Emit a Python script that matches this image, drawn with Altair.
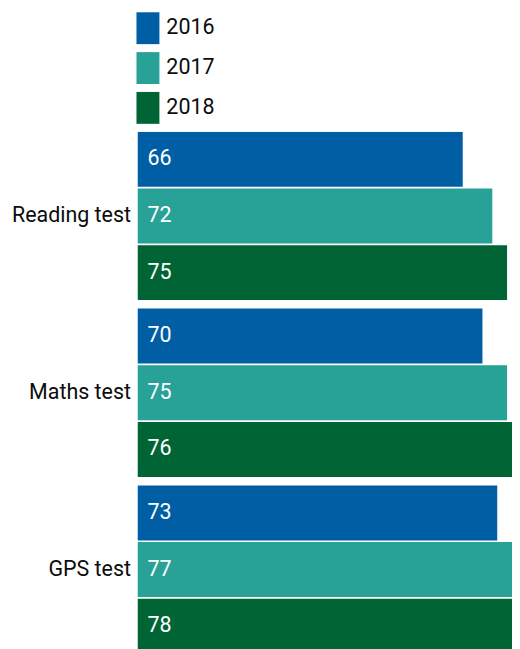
import altair as alt
import pandas as pd

tests = ["Reading test", "Maths test", "GPS test"]
years = ["2016", "2017", "2018"]
reading = [66, 72, 75]
maths = [70, 75, 76]
gps = [73, 77, 78]
colors = ["#005ea5", "#28a197", "#006435"]

rows = []
for t, vals in zip(tests, [reading, maths, gps]):
    for y, v in zip(years, vals):
        rows.append({"test": t, "year": y, "value": v})
df = pd.DataFrame(rows)

FONT = "Roboto"
FS = 21.5

y_enc = alt.Y("test:N", sort=tests, title=None,
              scale=alt.Scale(paddingInner=0.048, paddingOuter=0),
              axis=alt.Axis(domain=False, ticks=False, labelFontSize=FS,
                            labelFont=FONT, labelColor="#0b0c0c",
                            labelPadding=7, labelLimit=300))
yoff = alt.YOffset("year:N", sort=years,
                   scale=alt.Scale(paddingInner=0.03, paddingOuter=0))
x_enc = alt.X("value:Q", title=None,
              scale=alt.Scale(domain=[0, 76.0], nice=False, zero=True),
              axis=None)

bars = alt.Chart(df).mark_bar(clip=True).encode(
    x=x_enc, y=y_enc, yOffset=yoff,
    color=alt.Color("year:N", sort=years, title=None,
                    scale=alt.Scale(domain=years, range=colors),
                    legend=alt.Legend(orient="none", legendX=-5.5, legendY=-120,
                                      direction="vertical",
                                      symbolType="M-0.72,-1L0.72,-1L0.72,1L-0.72,1Z",
                                      symbolSize=1024, symbolStrokeWidth=0,
                                      symbolOpacity=1,
                                      labelFontSize=FS, labelFont=FONT,
                                      labelColor="#0b0c0c", labelOffset=2.5,
                                      rowPadding=8, padding=0,
                                      titlePadding=0)),
)

labels = alt.Chart(df).mark_text(align="left", baseline="middle", dx=10,
                                 fontSize=FS, font=FONT, color="white").encode(
    x=alt.datum(0), y=y_enc, yOffset=yoff, text="value:Q"
)

chart = alt.layer(bars, labels).properties(
    width=376, height=524,
    padding={"left": 3, "top": 3, "right": 0, "bottom": 0},
).configure_view(stroke=None)

chart.save("out.html", embed_options={"renderer": "svg", "actions": False})
